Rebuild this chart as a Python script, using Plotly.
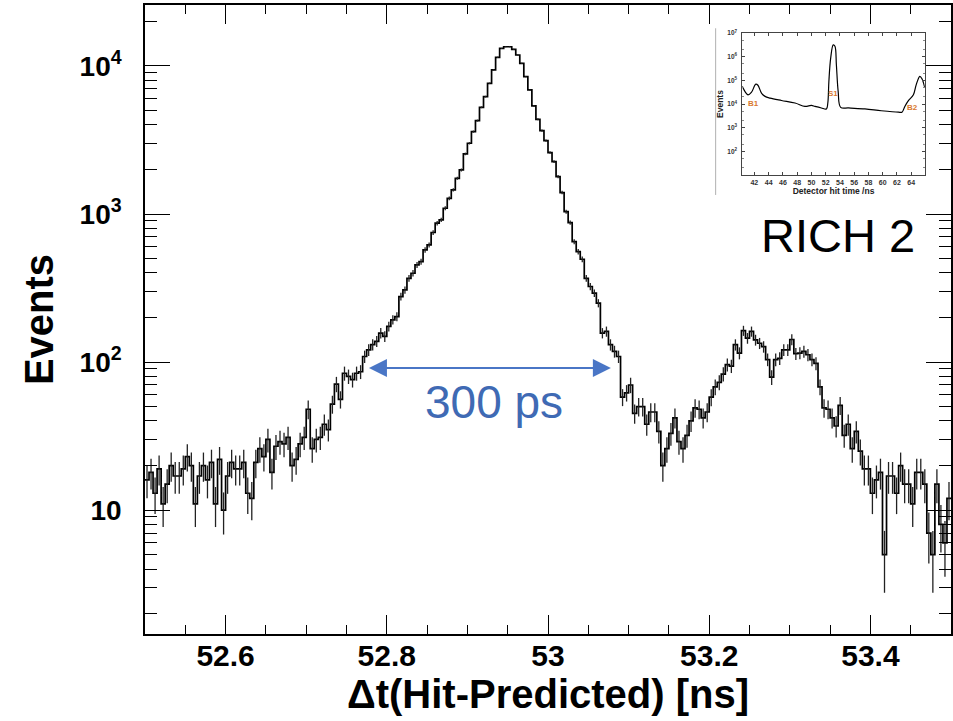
import numpy as np
import plotly.graph_objects as go

# ---------------- data ----------------
BIN_LO = 52.5
BIN_WIDTH = 0.005

counts_left_tail = [16, 18, 13, 19, 11, 15, 20, 17, 17, 19,
                    23, 20, 11, 17, 20, 16, 21, 11, 22, 10,
                    17, 21, 19, 19, 21, 13, 12, 21, 26, 23,
                    30, 18, 27, 29, 28, 31, 20, 22, 28, 31,
                    48, 26, 30, 31, 38, 35, 52, 71, 56]
counts_peak = [84, 80, 76, 84, 86, 109, 121, 131, 138, 157,
               149, 174, 193, 203, 277, 307, 368, 398, 453, 477,
               572, 618, 750, 867, 912, 1094, 1277, 1455, 1743, 1985,
               2547, 3006, 3604, 4276, 5260, 6208, 7640, 9400, 11440, 13140,
               13490, 13490, 12950, 11860, 10420, 8470, 6890, 5370, 4365, 3660,
               3130, 2600, 2260, 1790, 1397, 1038, 875, 651, 557, 495,
               368, 324, 292, 250, 157, 161, 131, 118, 109]
counts_right_tail = [58, 62, 70, 45, 50, 50, 38, 46, 46, 34,
                     20, 26, 33, 42, 29, 26, 32, 40, 49, 48,
                     42, 46, 58, 68, 73, 83, 96, 94, 131, 115,
                     163, 145, 161, 141, 134, 127, 104, 79, 104, 106,
                     121, 121, 142, 114, 115, 118, 112, 104, 98, 68,
                     49, 48, 42, 37, 51, 32, 38, 26, 34, 25,
                     19, 19, 13, 16, 18, 5, 17, 17, 13, 20,
                     15, 15, 11, 18, 18, 15, 7, 5, 15, 8,
                     6, 12]

x_tick_vals = [52.6, 52.8, 53.0, 53.2, 53.4]
x_tick_text = ["52.6", "52.8", "53", "53.2", "53.4"]
y_tick_vals = [10, 100, 1000, 10000]
y_tick_text = ["10", "10<sup>2</sup>", "10<sup>3</sup>", "10<sup>4</sup>"]

# inset: full detector hit time distribution
inset_t = [40.3, 41.1, 41.6, 42.2, 42.5, 43.0, 43.5, 44.2, 45.8, 47.7, 49.1, 50.0,
           50.5, 51.4, 52.1, 52.3, 52.45, 52.7, 53.06, 53.3, 53.5, 53.75, 54.1,
           55.2, 57.5, 59.8, 62.2, 62.7, 63.1, 63.6, 64.3, 64.7, 65.2, 65.5, 65.9]
inset_counts = [56000, 24500, 31600, 69000, 62000, 29000, 21000, 17800, 14100, 11000,
                7900, 8700, 7900, 6800, 6200, 11000, 91000, 870000, 3160000, 2750000,
                457000, 34700, 7200, 6800, 6200, 5200, 4500, 4500, 7900, 13800,
                24500, 66000, 148000, 117000, 48000]
inset_x_ticks = [42, 44, 46, 48, 50, 52, 54, 56, 58, 60, 62, 64]
inset_y_ticks = [1e2, 1e3, 1e4, 1e5, 1e6, 1e7]
inset_y_text = ["10<sup>2</sup>", "10<sup>3</sup>", "10<sup>4</sup>",
                "10<sup>5</sup>", "10<sup>6</sup>", "10<sup>7</sup>"]
inset_labels = ["B1", "S1", "B2"]
inset_label_t = [41.84, 53.06, 64.2]
inset_label_y = [1.1e4, 2.75e4, 7.4e3]

# ---------------- derived ----------------
counts = np.array(counts_left_tail + counts_peak + counts_right_tail, dtype=float)
n_bins = len(counts)
edges = BIN_LO + BIN_WIDTH * np.arange(n_bins + 1)
centers = 0.5 * (edges[:-1] + edges[1:])
errors = np.sqrt(counts)

FONT = "Liberation Sans, Arial, Helvetica, sans-serif"

fig = go.Figure()
fig.add_trace(go.Scatter(
    x=edges, y=np.append(counts, counts[-1]), mode="lines",
    line=dict(shape="hv", color="black", width=1.7), hoverinfo="skip"))
fig.add_trace(go.Scatter(
    x=centers, y=counts, mode="markers",
    marker=dict(size=2, color="rgba(0,0,0,0)"),
    error_y=dict(type="data", array=errors, width=0, thickness=1.3, color="#222")))

fig.add_trace(go.Scatter(
    x=inset_t, y=inset_counts, mode="lines", xaxis="x2", yaxis="y2",
    line=dict(shape="spline", color="black", width=1.2), hoverinfo="skip"))

fig.update_layout(
    width=953, height=721,
    margin=dict(l=145, r=0, t=5, b=87),
    paper_bgcolor="white", plot_bgcolor="white",
    showlegend=False,
    font=dict(family=FONT, color="black"),
    xaxis=dict(
        range=[52.5, 53.5], showgrid=False, zeroline=False,
        showline=True, linecolor="black", linewidth=1.5, mirror="allticks",
        ticks="inside", ticklen=19, tickwidth=1.3, tickcolor="black",
        tickmode="array", tickvals=x_tick_vals, ticktext=x_tick_text,
        tickfont=dict(family=FONT, size=30, weight="bold"),
        ticklabelstandoff=-6,
        minor=dict(ticks="inside", ticklen=9, tickwidth=1.3, tickcolor="black",
                   dtick=0.05, tick0=52.5, showgrid=False),
        title=dict(text="Δt(Hit-Predicted) [ns]", standoff=6,
                   font=dict(family=FONT, size=40, weight="bold")),
    ),
    yaxis=dict(
        type="log", range=[0.163, 4.412], showgrid=False, zeroline=False,
        showline=True, linecolor="black", linewidth=1.5, mirror="allticks",
        ticks="inside", ticklen=25, tickwidth=1.3, tickcolor="black",
        tickmode="array", tickvals=y_tick_vals, ticktext=y_tick_text,
        tickfont=dict(family=FONT, size=28, weight="bold"),
        ticklabelstandoff=16,
        minor=dict(ticks="inside", ticklen=12, tickwidth=1.3, tickcolor="black",
                   dtick="D1", showgrid=False),
        title=dict(text="Events", standoff=14,
                   font=dict(family=FONT, size=40, weight="bold")),
    ),
    xaxis2=dict(
        domain=[0.741, 0.9675], anchor="y2", range=[40.3, 65.9],
        showgrid=False, zeroline=False, showline=True, linecolor="#444",
        linewidth=0.8, mirror="allticks", ticks="inside", ticklen=3,
        tickwidth=0.6, tickcolor="#444", tickmode="array", tickvals=inset_x_ticks,
        tickfont=dict(family=FONT, size=7, weight="bold", color="#333"),
        ticklabelstandoff=1,
        title=dict(text="Detector hit time /ns", standoff=2,
                   font=dict(family=FONT, size=8.5, weight="bold", color="#222")),
    ),
    yaxis2=dict(
        domain=[0.7297, 0.9555], anchor="x2", type="log", range=[1, 7],
        showgrid=False, zeroline=False, showline=True, linecolor="#444",
        linewidth=0.8, mirror="allticks", ticks="inside", ticklen=3,
        tickwidth=0.6, tickcolor="#444", tickmode="array",
        tickvals=inset_y_ticks, ticktext=inset_y_text,
        tickfont=dict(family=FONT, size=6.5, weight="bold", color="#333"),
        ticklabelstandoff=3,
        minor=dict(ticks="inside", ticklen=2, tickwidth=0.5, tickcolor="#888",
                   dtick="D2"),
        title=dict(text="Events", standoff=2,
                   font=dict(family=FONT, size=8.5, weight="bold", color="#222")),
    ),
)

# gray left border of the inset picture
fig.add_shape(type="line", xref="paper", yref="paper",
              x0=0.708, x1=0.708, y0=0.698, y1=0.963,
              line=dict(color="#b0b0b0", width=1))

for lab, lt, ly in zip(inset_labels, inset_label_t, inset_label_y):
    fig.add_annotation(x=lt, y=np.log10(ly), xref="x2", yref="y2", text=lab,
                       showarrow=False, xanchor="center", yanchor="middle",
                       font=dict(family=FONT, size=8, weight="bold", color="#d9782e"))

# 300 ps double arrow
ARROW_Y = 91
fig.add_annotation(x=53.078, y=np.log10(ARROW_Y), ax=52.776, ay=np.log10(ARROW_Y),
                   xref="x", yref="y", axref="x", ayref="y", text="",
                   showarrow=True, arrowside="end+start",
                   arrowhead=2, startarrowhead=2, arrowsize=1.8, startarrowsize=1.8,
                   arrowwidth=2, arrowcolor="#4a76c6", standoff=0, startstandoff=0)
fig.add_annotation(x=52.933, y=1.731, xref="x", yref="y", text="300 ps",
                   showarrow=False, xanchor="center", yanchor="middle",
                   font=dict(family=FONT, size=46, color="#3f6ab4"))
fig.add_annotation(x=0.860, y=0.634, xref="paper", yref="paper", text="RICH 2",
                   showarrow=False, xanchor="center", yanchor="middle",
                   font=dict(family=FONT, size=47, color="black"))

fig.write_html("out.html")
